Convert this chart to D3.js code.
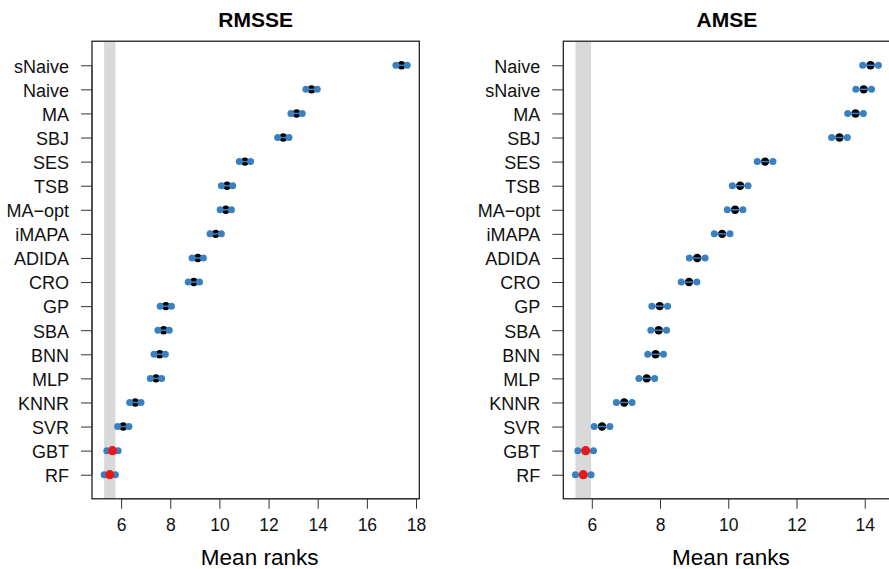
<!DOCTYPE html>
<html>
<head>
<meta charset="utf-8">
<script src="https://cdn.jsdelivr.net/npm/d3@7"></script>
<style>
body { margin: 0; background: white; }
svg { display: block; }
</style>
</head>
<body>
<script>
// mean ranks
var rmsseMethods = ["sNaive", "Naive", "MA", "SBJ", "SES", "TSB", "MA\u2212opt", "iMAPA", "ADIDA", "CRO", "GP", "SBA", "BNN", "MLP", "KNNR", "SVR", "GBT", "RF"];
var rmsseRanks = [17.41, 13.75, 13.14, 12.60, 11.04, 10.31, 10.26, 9.85, 9.12, 8.96, 7.82, 7.73, 7.57, 7.42, 6.58, 6.09, 5.65, 5.54];
var rmsseTicks = [6, 8, 10, 12, 14, 16, 18];

var amseMethods = ["Naive", "sNaive", "MA", "SBJ", "SES", "TSB", "MA\u2212opt", "iMAPA", "ADIDA", "CRO", "GP", "SBA", "BNN", "MLP", "KNNR", "SVR", "GBT", "RF"];
var amseRanks = [14.17, 13.97, 13.73, 13.26, 11.08, 10.35, 10.20, 9.82, 9.09, 8.85, 7.99, 7.96, 7.87, 7.61, 6.95, 6.30, 5.82, 5.75];
var amseTicks = [6, 8, 10, 12, 14];

// half of the critical distance
var halfCD = 0.23;

var blue = "#3a80c1";
var red = "#e41a1c";
var font = "Liberation Sans, Arial, Helvetica, sans-serif";

var svg = d3.select("body").append("svg")
    .attr("width", 889)
    .attr("height", 569);

function drawPanel(title, methods, ranks, ticks, left, right) {
    var top = 41.2, bottom = 498.8;

    var lo = d3.min(ranks) - halfCD, hi = d3.max(ranks) + halfCD;
    var pad = (hi - lo) * 0.04;
    var xScale = d3.scaleLinear()
        .domain([lo - pad, hi + pad])
        .range([left, right]);
    var yScale = d3.scaleLinear()
        .domain([0, methods.length + 1])
        .range([top, bottom]);

    var g = svg.append("g");

    // best method interval
    var best = d3.min(ranks);
    g.append("rect")
        .attr("x", xScale(best - halfCD))
        .attr("y", top)
        .attr("width", xScale(best + halfCD) - xScale(best - halfCD))
        .attr("height", bottom - top)
        .attr("fill", "#d9d9d9");

    g.append("rect")
        .attr("x", left)
        .attr("y", top)
        .attr("width", right - left)
        .attr("height", bottom - top)
        .attr("fill", "none")
        .attr("stroke", "#111")
        .attr("stroke-width", 1.2);

    var rows = methods.map(function (m, i) {
        return {name: m, rank: ranks[i], row: i + 1, hit: ranks[i] - halfCD <= best + halfCD};
    });

    var r = g.selectAll("g.row")
        .data(rows)
        .enter()
        .append("g")
        .attr("class", "row");

    r.filter(function (d) { return !d.hit; })
        .append("circle")
        .attr("cx", function (d) { return xScale(d.rank); })
        .attr("cy", function (d) { return yScale(d.row); })
        .attr("r", 4.2)
        .attr("fill", "black");

    r.append("line")
        .attr("x1", function (d) { return xScale(d.rank - halfCD); })
        .attr("x2", function (d) { return xScale(d.rank + halfCD); })
        .attr("y1", function (d) { return yScale(d.row); })
        .attr("y2", function (d) { return yScale(d.row); })
        .attr("stroke", blue)
        .attr("stroke-width", 1.5);

    r.append("circle")
        .attr("cx", function (d) { return xScale(d.rank - halfCD); })
        .attr("cy", function (d) { return yScale(d.row); })
        .attr("r", 3.5)
        .attr("fill", blue);
    r.append("circle")
        .attr("cx", function (d) { return xScale(d.rank + halfCD); })
        .attr("cy", function (d) { return yScale(d.row); })
        .attr("r", 3.5)
        .attr("fill", blue);

    r.filter(function (d) { return d.hit; })
        .append("circle")
        .attr("cx", function (d) { return xScale(d.rank); })
        .attr("cy", function (d) { return yScale(d.row); })
        .attr("r", 4.6)
        .attr("fill", red);

    // axes
    var xAxis = g.append("g")
        .attr("transform", "translate(0," + bottom + ")")
        .call(d3.axisBottom(xScale).tickValues(ticks).tickSize(10).tickPadding(10).tickSizeOuter(0));
    xAxis.select(".domain").remove();
    xAxis.append("line")
        .attr("x1", xScale(ticks[0]))
        .attr("x2", xScale(ticks[ticks.length - 1]))
        .attr("stroke", "#333");
    xAxis.attr("font-size", 17.5).attr("font-family", font);
    xAxis.selectAll(".tick line").attr("stroke", "#333");
    xAxis.selectAll("text").attr("fill", "#111");

    var yAxis = g.append("g")
        .attr("transform", "translate(" + left + ",0)")
        .call(d3.axisLeft(yScale)
            .tickValues(d3.range(1, methods.length + 1))
            .tickFormat(function (i) { return methods[i - 1]; })
            .tickSize(11).tickPadding(12).tickSizeOuter(0));
    yAxis.select(".domain").remove();
    yAxis.append("line")
        .attr("y1", yScale(1))
        .attr("y2", yScale(methods.length))
        .attr("stroke", "#333");
    yAxis.attr("font-size", 18).attr("font-family", font);
    yAxis.selectAll(".tick line").attr("stroke", "#333");
    yAxis.selectAll("text").attr("dy", "0.38em").attr("fill", "#111");

    svg.append("text")
        .attr("x", (left + right) / 2)
        .attr("y", 27)
        .attr("text-anchor", "middle")
        .attr("font-family", font)
        .attr("font-weight", "bold")
        .attr("font-size", 21)
        .text(title);

    svg.append("text")
        .attr("x", (left + right) / 2 + 4)
        .attr("y", 565)
        .attr("text-anchor", "middle")
        .attr("font-family", font)
        .attr("font-size", 22.5)
        .text("Mean ranks");
}

drawPanel("RMSSE", rmsseMethods, rmsseRanks, rmsseTicks, 92, 419.3);
drawPanel("AMSE", amseMethods, amseRanks, amseTicks, 563.3, 890.5);
</script>
</body>
</html>
